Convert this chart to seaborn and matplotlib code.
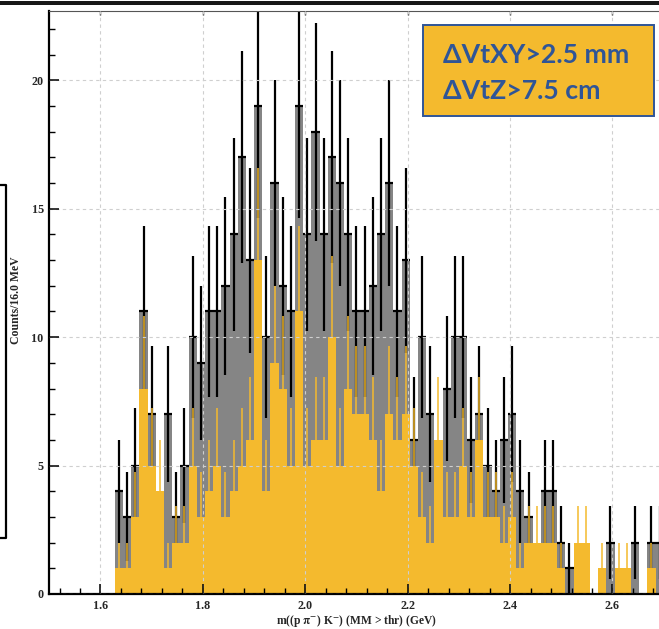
import numpy as np
import pandas as pd
import matplotlib
matplotlib.use("Agg")
import matplotlib.pyplot as plt
import seaborn as sns
from matplotlib.patches import Rectangle
from matplotlib.lines import Line2D
from matplotlib.ticker import MultipleLocator

# 16 MeV bins starting at 1.628 GeV
first_edge = 1.628
bin_width = 0.016

# all candidates (grey) per bin
counts_all = [4, 3, 5, 11, 7, 4, 7, 3, 5, 10, 9,
              11, 11, 12, 14, 17, 13, 19, 10, 16, 12, 11,
              19, 14, 18, 14, 17, 16, 14, 11, 11, 12, 14,
              16, 11, 13, 6, 10, 7, 6, 8, 10, 10, 6,
              7, 5, 4, 6, 7, 4, 3, 2, 4, 4, 2, 1,
              2, 2, 0, 1, 2, 1, 1, 2, 0, 2, 2]

# candidates passing the displaced-vertex cuts (orange) per bin
counts_cut = [1, 1, 3, 8, 5, 4, 1, 2, 2, 5, 3,
              4, 5, 3, 4, 5, 6, 13, 4, 9, 8, 5,
              11, 5, 6, 6, 10, 5, 8, 7, 7, 6, 4,
              7, 6, 7, 5, 3, 2, 6, 3, 3, 5, 3,
              6, 3, 3, 2, 3, 1, 2, 2, 2, 2, 1, 0,
              2, 2, 0, 1, 0, 1, 1, 0, 0, 1, 0]

x_ticks = [1.6, 1.8, 2.0, 2.2, 2.4, 2.6]
y_ticks = [0, 5, 10, 15, 20]
cut_lines = ["\u0394VtXY>2.5 mm", "\u0394VtZ>7.5 cm"]

GREY = "#858585"
ORANGE = "#F4BA2E"
BLUE = "#2F5597"

edges = first_edge + bin_width * np.arange(len(counts_all) + 1)
centers = edges[:-1] + bin_width / 2
g = np.array(counts_all, dtype=float)
o = np.array(counts_cut, dtype=float)
df = pd.DataFrame({"mass": centers, "all": g, "cut": o})
bin_list = [float(e) for e in edges]

sns.set_style("white")
plt.rcParams["mathtext.fontset"] = "stix"
W, H = 659, 629
fig = plt.figure(figsize=(W / 100, H / 100), dpi=100)
ax_l, ax_r, ax_t, ax_b = 49.3, 663.7, 11.0, 594.0
ax = fig.add_axes([ax_l / W, 1 - ax_b / H, (ax_r - ax_l) / W, (ax_b - ax_t) / H])

# grey histogram
n0 = len(ax.patches)
sns.histplot(data=df, x="mass", weights="all", bins=bin_list, color=GREY,
             alpha=1, linewidth=0, edgecolor=GREY, ax=ax)
for p in ax.patches[n0:]:
    p.set_zorder(1.0)
    p.set_antialiased(False)

# black error bars where the grey bin sticks out above the orange one
m = g > o
ax.errorbar(centers[m], g[m], yerr=np.sqrt(g[m]), xerr=bin_width / 2,
            fmt="none", ecolor="black", elinewidth=1.6, capsize=0, zorder=1.5)

# orange histogram on top
n1 = len(ax.patches)
sns.histplot(data=df, x="mass", weights="cut", bins=bin_list, color=ORANGE,
             alpha=1, linewidth=0, edgecolor=ORANGE, ax=ax)
for p in ax.patches[n1:]:
    p.set_zorder(2.0)
    p.set_antialiased(False)

mo = o > 0
ax.errorbar(centers[mo], o[mo], yerr=np.sqrt(o[mo]), fmt="none",
            ecolor=ORANGE, elinewidth=1.1, capsize=0, zorder=2.2)

ax.set_xlim(1.5, 2.7)
ax.set_ylim(0, 22.7)
ax.set_xticks(x_ticks)
ax.set_yticks(y_ticks)
ax.set_xticklabels([f"{v:.1f}" for v in x_ticks])
ax.set_yticklabels([str(v) for v in y_ticks])
ax.xaxis.set_minor_locator(MultipleLocator(0.04))
ax.yaxis.set_minor_locator(MultipleLocator(1))
ax.set_xlabel("")
ax.set_ylabel("")

ax.set_axisbelow(False)
ax.grid(True, which="major", color="#cfcfcf", linestyle=(0, (3, 3)), linewidth=0.8)

for lab in ax.get_xticklabels() + ax.get_yticklabels():
    lab.set_fontfamily("Liberation Serif")
    lab.set_fontweight("bold")
    lab.set_fontsize(8.7)

ax.tick_params(which="major", direction="in", length=7.5, width=1.1,
               color="black", bottom=True, left=True, top=False, right=False)
ax.tick_params(which="minor", direction="in", length=4, width=1.0,
               color="black", bottom=True, left=True, top=False, right=False)
ax.tick_params(axis="x", which="major", pad=4.5)
ax.tick_params(axis="y", which="major", pad=4.0)

for side in ["left", "bottom"]:
    ax.spines[side].set_linewidth(1.6)
    ax.spines[side].set_color("black")
ax.spines["top"].set_linewidth(0.8)
ax.spines["top"].set_color("#555555")
ax.spines["right"].set_visible(False)

top = ax.secondary_xaxis("top")
top.set_xticks(x_ticks)
top.tick_params(direction="in", length=3, width=1.0, labeltop=False)
top.spines["top"].set_visible(False)

ax.set_xlabel(r"m((p $\mathbf{\pi^{-}}$) K$^{\mathbf{-}}$) (MM > thr) (GeV)",
              fontfamily="Liberation Serif", fontweight="bold", fontsize=8.3)
ax.xaxis.set_label_coords(0.5, -(621.0 - ax_b) / (ax_b - ax_t))
ax.xaxis.label.set_va("center")
ax.set_ylabel("Counts/16.0 MeV", fontfamily="Liberation Serif",
              fontweight="bold", fontsize=8.5)
ax.yaxis.set_label_coords(-(ax_l - 16.5) / (ax_r - ax_l), (ax_b - 300) / (ax_b - ax_t))
ax.yaxis.label.set_va("center")
ax.yaxis.label.set_ha("center")

# cut summary box
bx0, bx1, by0, by1 = 423.3, 654.3, 25.0, 116.0
fig.patches.append(Rectangle((bx0 / W, 1 - by1 / H), (bx1 - bx0) / W, (by1 - by0) / H,
                             transform=fig.transFigure, facecolor=ORANGE,
                             edgecolor=BLUE, linewidth=1.4, zorder=5))
for txt, base in zip(cut_lines, [62.7, 99.3]):
    fig.text(443 / W, 1 - base / H, txt, color=BLUE, fontsize=19.2,
             fontfamily="Lato", fontweight="bold", ha="left", va="baseline", zorder=6)

# page frame pieces around the plot
fig.add_artist(Line2D([0, 1], [1 - 1.6 / H, 1 - 1.6 / H], transform=fig.transFigure,
                      color="black", linewidth=1.3))
fig.add_artist(Line2D([0, 1], [1 - 4.0 / H, 1 - 4.0 / H], transform=fig.transFigure,
                      color="black", linewidth=1.3))
fig.add_artist(Line2D([0, 5.5 / W, 5.5 / W, 0],
                      [1 - 185 / H, 1 - 185 / H, 1 - 538 / H, 1 - 538 / H],
                      transform=fig.transFigure, color="black", linewidth=1.6))

fig.savefig("out.png", dpi=100)
